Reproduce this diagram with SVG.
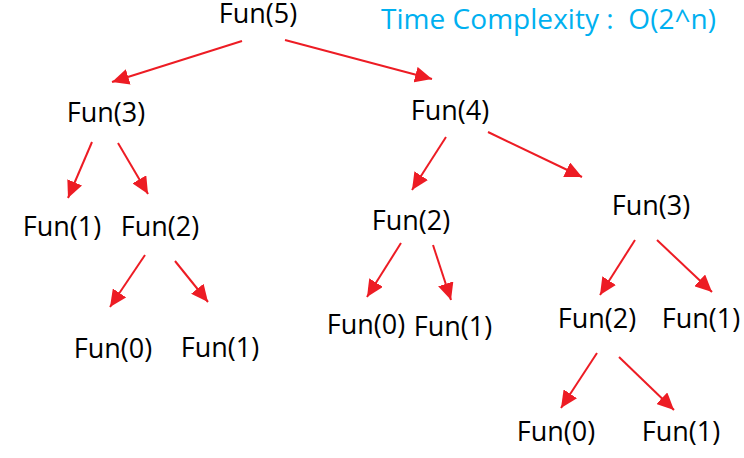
<svg xmlns="http://www.w3.org/2000/svg" width="744" height="458" viewBox="0 0 744 458">
<defs>
<style>
.n{font-family:"Open Sans","Noto Sans",sans-serif;font-size:27px;fill:#000;text-anchor:middle}
.t{font-family:"Open Sans","Noto Sans",sans-serif;font-size:28px;fill:#00B0F0;white-space:pre}
.c line{stroke:#ED1C24;stroke-width:2;fill:none;marker-end:url(#a)}
</style>
<marker id="a" markerUnits="userSpaceOnUse" markerWidth="18" markerHeight="16" viewBox="0 0 18 16" refX="17" refY="8" orient="auto">
<path d="M0,0 L17,8 L0,16 Z" fill="#ED1C24"/>
</marker>
</defs>
<rect width="744" height="458" fill="#fff"/>
<text class="t" x="381" y="29" xml:space="preserve" textLength="335" lengthAdjust="spacing">Time Complexity :  O(2^n)</text>
<g class="c">
<line x1="242" y1="41" x2="112" y2="82"/>
<line x1="285" y1="40" x2="432" y2="79"/>
<line x1="92" y1="142" x2="68" y2="198"/>
<line x1="118" y1="143" x2="148" y2="194"/>
<line x1="145" y1="255" x2="110" y2="307"/>
<line x1="175" y1="261" x2="208" y2="302"/>
<line x1="446" y1="137" x2="412" y2="190"/>
<line x1="488" y1="132" x2="582" y2="177"/>
<line x1="401" y1="243" x2="367" y2="297"/>
<line x1="433" y1="245" x2="451" y2="300"/>
<line x1="635" y1="240" x2="600" y2="295"/>
<line x1="657" y1="240" x2="712" y2="292"/>
<line x1="597" y1="353" x2="561" y2="408"/>
<line x1="619" y1="357" x2="674" y2="410"/>
</g>
<g id="f5"><text class="n" x="258" y="23">Fun(5)</text></g>
<g id="f3a"><text class="n" x="106" y="122">Fun(3)</text></g>
<g id="f4"><text class="n" x="450" y="120">Fun(4)</text></g>
<g id="f1a"><text class="n" x="62" y="236">Fun(1)</text></g>
<g id="f2a"><text class="n" x="160" y="236">Fun(2)</text></g>
<g id="f0a"><text class="n" x="113" y="358">Fun(0)</text></g>
<g id="f1b"><text class="n" x="220" y="357">Fun(1)</text></g>
<g id="f2b"><text class="n" x="411" y="230">Fun(2)</text></g>
<g id="f0b"><text class="n" x="366" y="334">Fun(0)</text></g>
<g id="f1c"><text class="n" x="453" y="336">Fun(1)</text></g>
<g id="f3b"><text class="n" x="651" y="215">Fun(3)</text></g>
<g id="f2c"><text class="n" x="597" y="328">Fun(2)</text></g>
<g id="f1d"><text class="n" x="701" y="328">Fun(1)</text></g>
<g id="f0c"><text class="n" x="556" y="441">Fun(0)</text></g>
<g id="f1e"><text class="n" x="681" y="441">Fun(1)</text></g>
</svg>
